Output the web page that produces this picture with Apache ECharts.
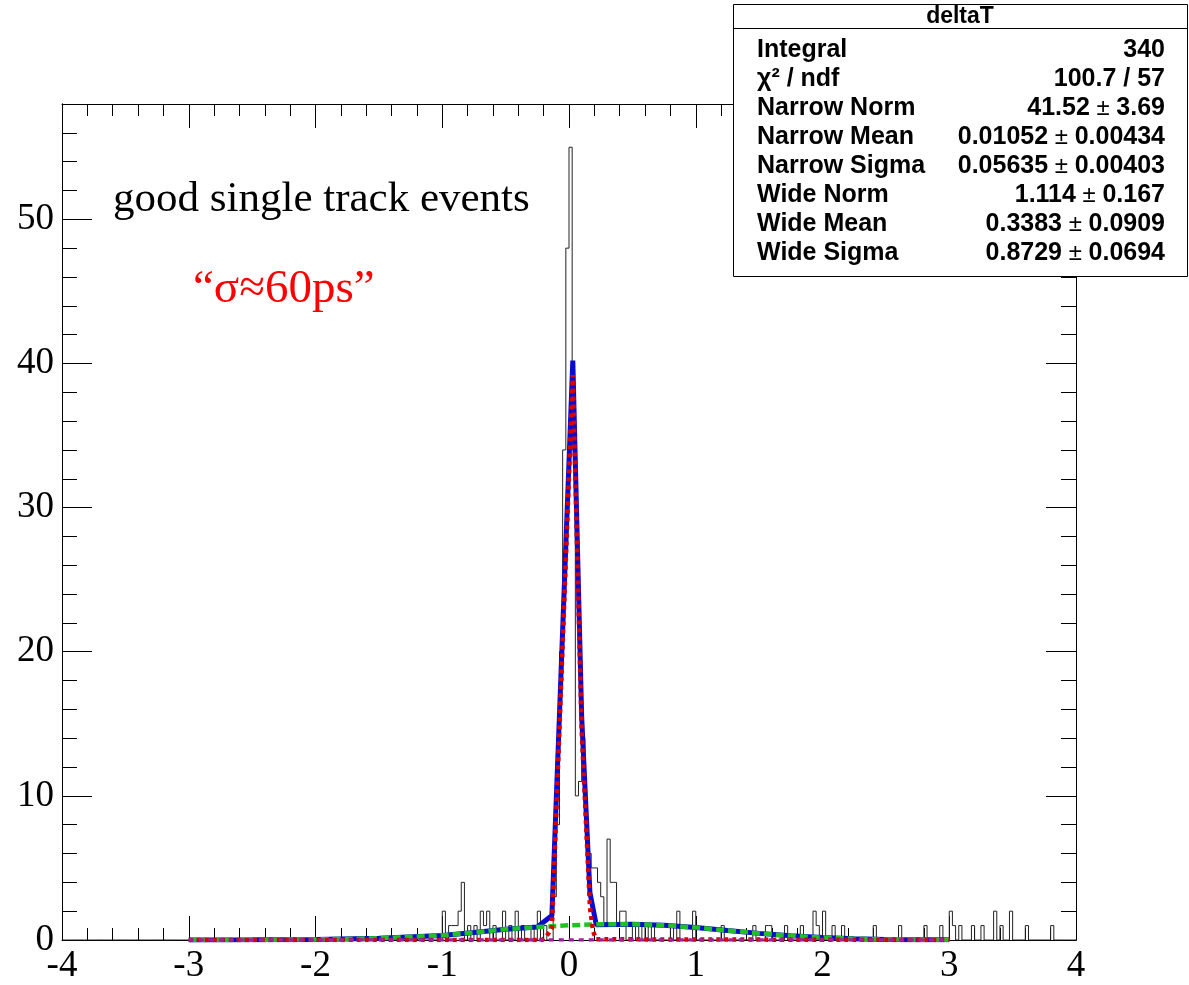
<!DOCTYPE html>
<html><head><meta charset="utf-8">
<script src="https://cdn.jsdelivr.net/npm/echarts@6/dist/echarts.min.js"></script>
<style>html,body{margin:0;padding:0;background:#fff}#c{width:1189px;height:985px}</style>
</head><body><div id="c"></div>
<script>
// ---------- data ----------
const xTickLabels = ['-4','-3','-2','-1','0','1','2','3','4'];
const histRange = [-4, 4];
const histBinWidth = 0.025;
// non-empty bins: lower edge and count
const histLowEdges = [-1.000,-0.950,-0.925,-0.900,-0.875,-0.850,-0.800,-0.750,-0.700,-0.675,-0.650,-0.600,-0.525,-0.475,-0.425,-0.375,-0.300,-0.250,-0.200,
  -0.125,-0.100,-0.075,-0.050,-0.025,0.000,0.025,0.050,0.075,0.100,0.125,0.150,0.175,0.200,0.225,0.250,0.275,0.300,0.325,0.350,0.375,0.400,0.425,
  0.500,0.550,0.600,0.650,0.800,0.850,0.975,1.200,1.450,1.550,1.575,1.700,1.825,1.925,1.950,2.000,2.075,2.150,2.400,2.600,2.800,2.925,
  3.000,3.025,3.075,3.175,3.250,3.350,3.400,3.475,3.600,3.800];
const histCounts = [2,1,1,1,2,4,1,1,2,1,2,1,2,1,2,1,1,2,1,
  3,8,20,34,48,55,34,10,11,14,8,6,5,5,4,3,1,7,4,4,1,2,2,
  1,1,1,1,1,2,2,1,1,1,1,1,1,2,1,2,1,1,1,1,1,1,
  2,1,1,1,1,2,1,2,1,1];

// fit curves
const totalFitX = [-3,-2.5,-2,-1.5,-1,-0.75,-0.5,-0.25,-0.135,0.03,0.10,0.165,0.215,0.5,0.75,1,1.25,1.5,1.75,2,2.25,2.5,2.75,3];
const totalFitY = [0,0.01,0.04,0.12,0.32,0.52,0.74,0.9,1.7,40.2,15.5,3.3,1.05,1.1,1.02,0.87,0.66,0.46,0.29,0.17,0.09,0.04,0.02,0.01];
const wideFitX = [-3,-2.5,-2,-1.5,-1,-0.75,-0.5,-0.25,0,0.25,0.5,0.75,1,1.25,1.5,1.75,2,2.25,2.5,2.75,3];
const wideFitY = [0,0.01,0.04,0.12,0.32,0.52,0.74,0.9,1.02,1.1,1.1,1.02,0.87,0.66,0.46,0.29,0.17,0.09,0.04,0.02,0.01];
const narrowFitX = [-3,-0.21,-0.175,-0.135,0.03,0.10,0.165,0.19,0.215,3];
const narrowFitY = [0,0,0.3,0.8,39.2,14.5,2.3,0.6,0.05,0];
const bkgFitX = [-3,3];
const bkgFitY = [0,0];

const statsTitle = 'deltaT';
const statsNames = ['Integral','χ² / ndf','Narrow Norm','Narrow Mean','Narrow Sigma','Wide Norm','Wide Mean','Wide Sigma'];
const statsValues = ['340','100.7 / 57','41.52 ± 3.69','0.01052 ± 0.00434','0.05635 ± 0.00403','1.114 ± 0.167','0.3383 ± 0.0909','0.8729 ± 0.0694'];
const labelText = 'good single track events';
const sigmaText = '\u201Cσ≈60ps\u201D';

// ---------- build ----------
const nBins = Math.round((histRange[1]-histRange[0])/histBinWidth);
const counts = new Array(nBins).fill(0);
histLowEdges.forEach((e,i)=>{ counts[Math.round((e-histRange[0])/histBinWidth)] = histCounts[i]; });
const histData = [];
for (let k=0;k<nBins;k++) histData.push([histRange[0]+k*histBinWidth, counts[k]]);
histData.push([histRange[1], counts[nBins-1]]);
const zip = (a,b)=>a.map((v,i)=>[v,b[i]]);

const chart = echarts.init(document.getElementById('c'), null, {renderer:'canvas'});
const axisCol = '#000';
const serif = 'Liberation Serif';
function xAx(pos, labels){
  return {type:'value', min:-4, max:4, interval:1, position:pos,
    axisLine:{show:true,onZero:false,lineStyle:{color:axisCol,width:1}},
    axisTick:{show:true,inside:true,length:24,lineStyle:{color:axisCol,width:1}},
    minorTick:{show:true,splitNumber:5,length:12,lineStyle:{color:axisCol,width:1}},
    axisLabel:{show:labels, fontFamily:serif, fontSize:37, color:'#000', margin:8,
      formatter:(v)=>xTickLabels[Math.round(v+4)]},
    splitLine:{show:false}, minorSplitLine:{show:false}};
}
function yAx(pos, interval, tickLen, labels){
  return {type:'value', min:0, max:58, interval:interval, position:pos,
    axisLine:{show:true,onZero:false,lineStyle:{color:axisCol,width:1}},
    axisTick:{show:true,inside:true,length:tickLen,lineStyle:{color:axisCol,width:1}},
    axisLabel:{show:labels, showMaxLabel:false, fontFamily:serif, fontSize:37, color:'#000', margin:8},
    splitLine:{show:false}};
}
const rowY = [50,79,108,137,166,195,224,253];
const statsEls = [
  {type:'rect', shape:{x:733.5,y:4.5,width:454,height:272}, style:{fill:'#fff',stroke:'#000',lineWidth:1}, z:100},
  {type:'line', shape:{x1:733.5,y1:28.5,x2:1187.5,y2:28.5}, style:{stroke:'#000',lineWidth:1}, z:101},
  {type:'text', x:960, y:17, style:{text:statsTitle, font:'bold 23px "Liberation Sans"', fill:'#000', align:'center', verticalAlign:'middle'}, z:102}
];
statsNames.forEach((n,i)=>{
  statsEls.push({type:'text', x:757, y:rowY[i], style:{text:n, font:'bold 25px "Liberation Sans"', fill:'#000', align:'left', verticalAlign:'middle'}, z:102});
  const parts = statsValues[i].split('±');
  const rich = parts.length>1 ? '{b|'+parts[0].trim()+'}{pm| ± }{b|'+parts[1].trim()+'}' : '{b|'+parts[0]+'}';
  statsEls.push({type:'text', x:1165, y:rowY[i], style:{text:rich, align:'right', verticalAlign:'middle',
    rich:{b:{font:'bold 25px "Liberation Sans"', fill:'#000'}, pm:{font:'24px "Liberation Sans"', fill:'#000'}}}, z:102});
});

chart.setOption({
  animation:false,
  backgroundColor:'#fff',
  grid:{left:62, top:104, width:1014, height:836, containLabel:false},
  xAxis:[xAx('bottom',true), xAx('top',false)],
  yAxis:[yAx('left',10,30,true), yAx('left',2,15,false), yAx('right',10,30,false), yAx('right',2,15,false)],
  series:[
    {type:'line', name:'hist', data:histData, step:'end', symbol:'none', xAxisIndex:0, yAxisIndex:0,
      lineStyle:{color:'#222',width:1}, z:2},
    {type:'line', name:'total', data:zip(totalFitX,totalFitY), symbol:'none', xAxisIndex:0, yAxisIndex:0,
      lineStyle:{color:'#0a0ad0',width:5}, z:3},
    {type:'line', name:'wide', data:zip(wideFitX,wideFitY), symbol:'none', xAxisIndex:0, yAxisIndex:0,
      lineStyle:{color:'#22c022',width:4.5,type:[8,4]}, z:4},
    {type:'line', name:'narrow', data:zip(narrowFitX,narrowFitY), symbol:'none', xAxisIndex:0, yAxisIndex:0,
      lineStyle:{color:'#d80000',width:4.5,type:[4,4]}, z:5},
    {type:'line', name:'bkg', data:zip(bkgFitX,bkgFitY), symbol:'none', xAxisIndex:0, yAxisIndex:0,
      lineStyle:{color:'#a020a0',width:3.5,type:[5,5]}, z:6}
  ],
  graphic:[
    {type:'text', x:113, y:178, style:{text:labelText, font:'43px "Liberation Serif"', fill:'#000', align:'left', verticalAlign:'alphabetic'}, z:50},
    {type:'text', x:193, y:266, style:{text:sigmaText, font:'47px "Liberation Serif"', fill:'#ff0000', align:'left', verticalAlign:'alphabetic'}, z:50},
    ...statsEls
  ]
});
</script></body></html>
